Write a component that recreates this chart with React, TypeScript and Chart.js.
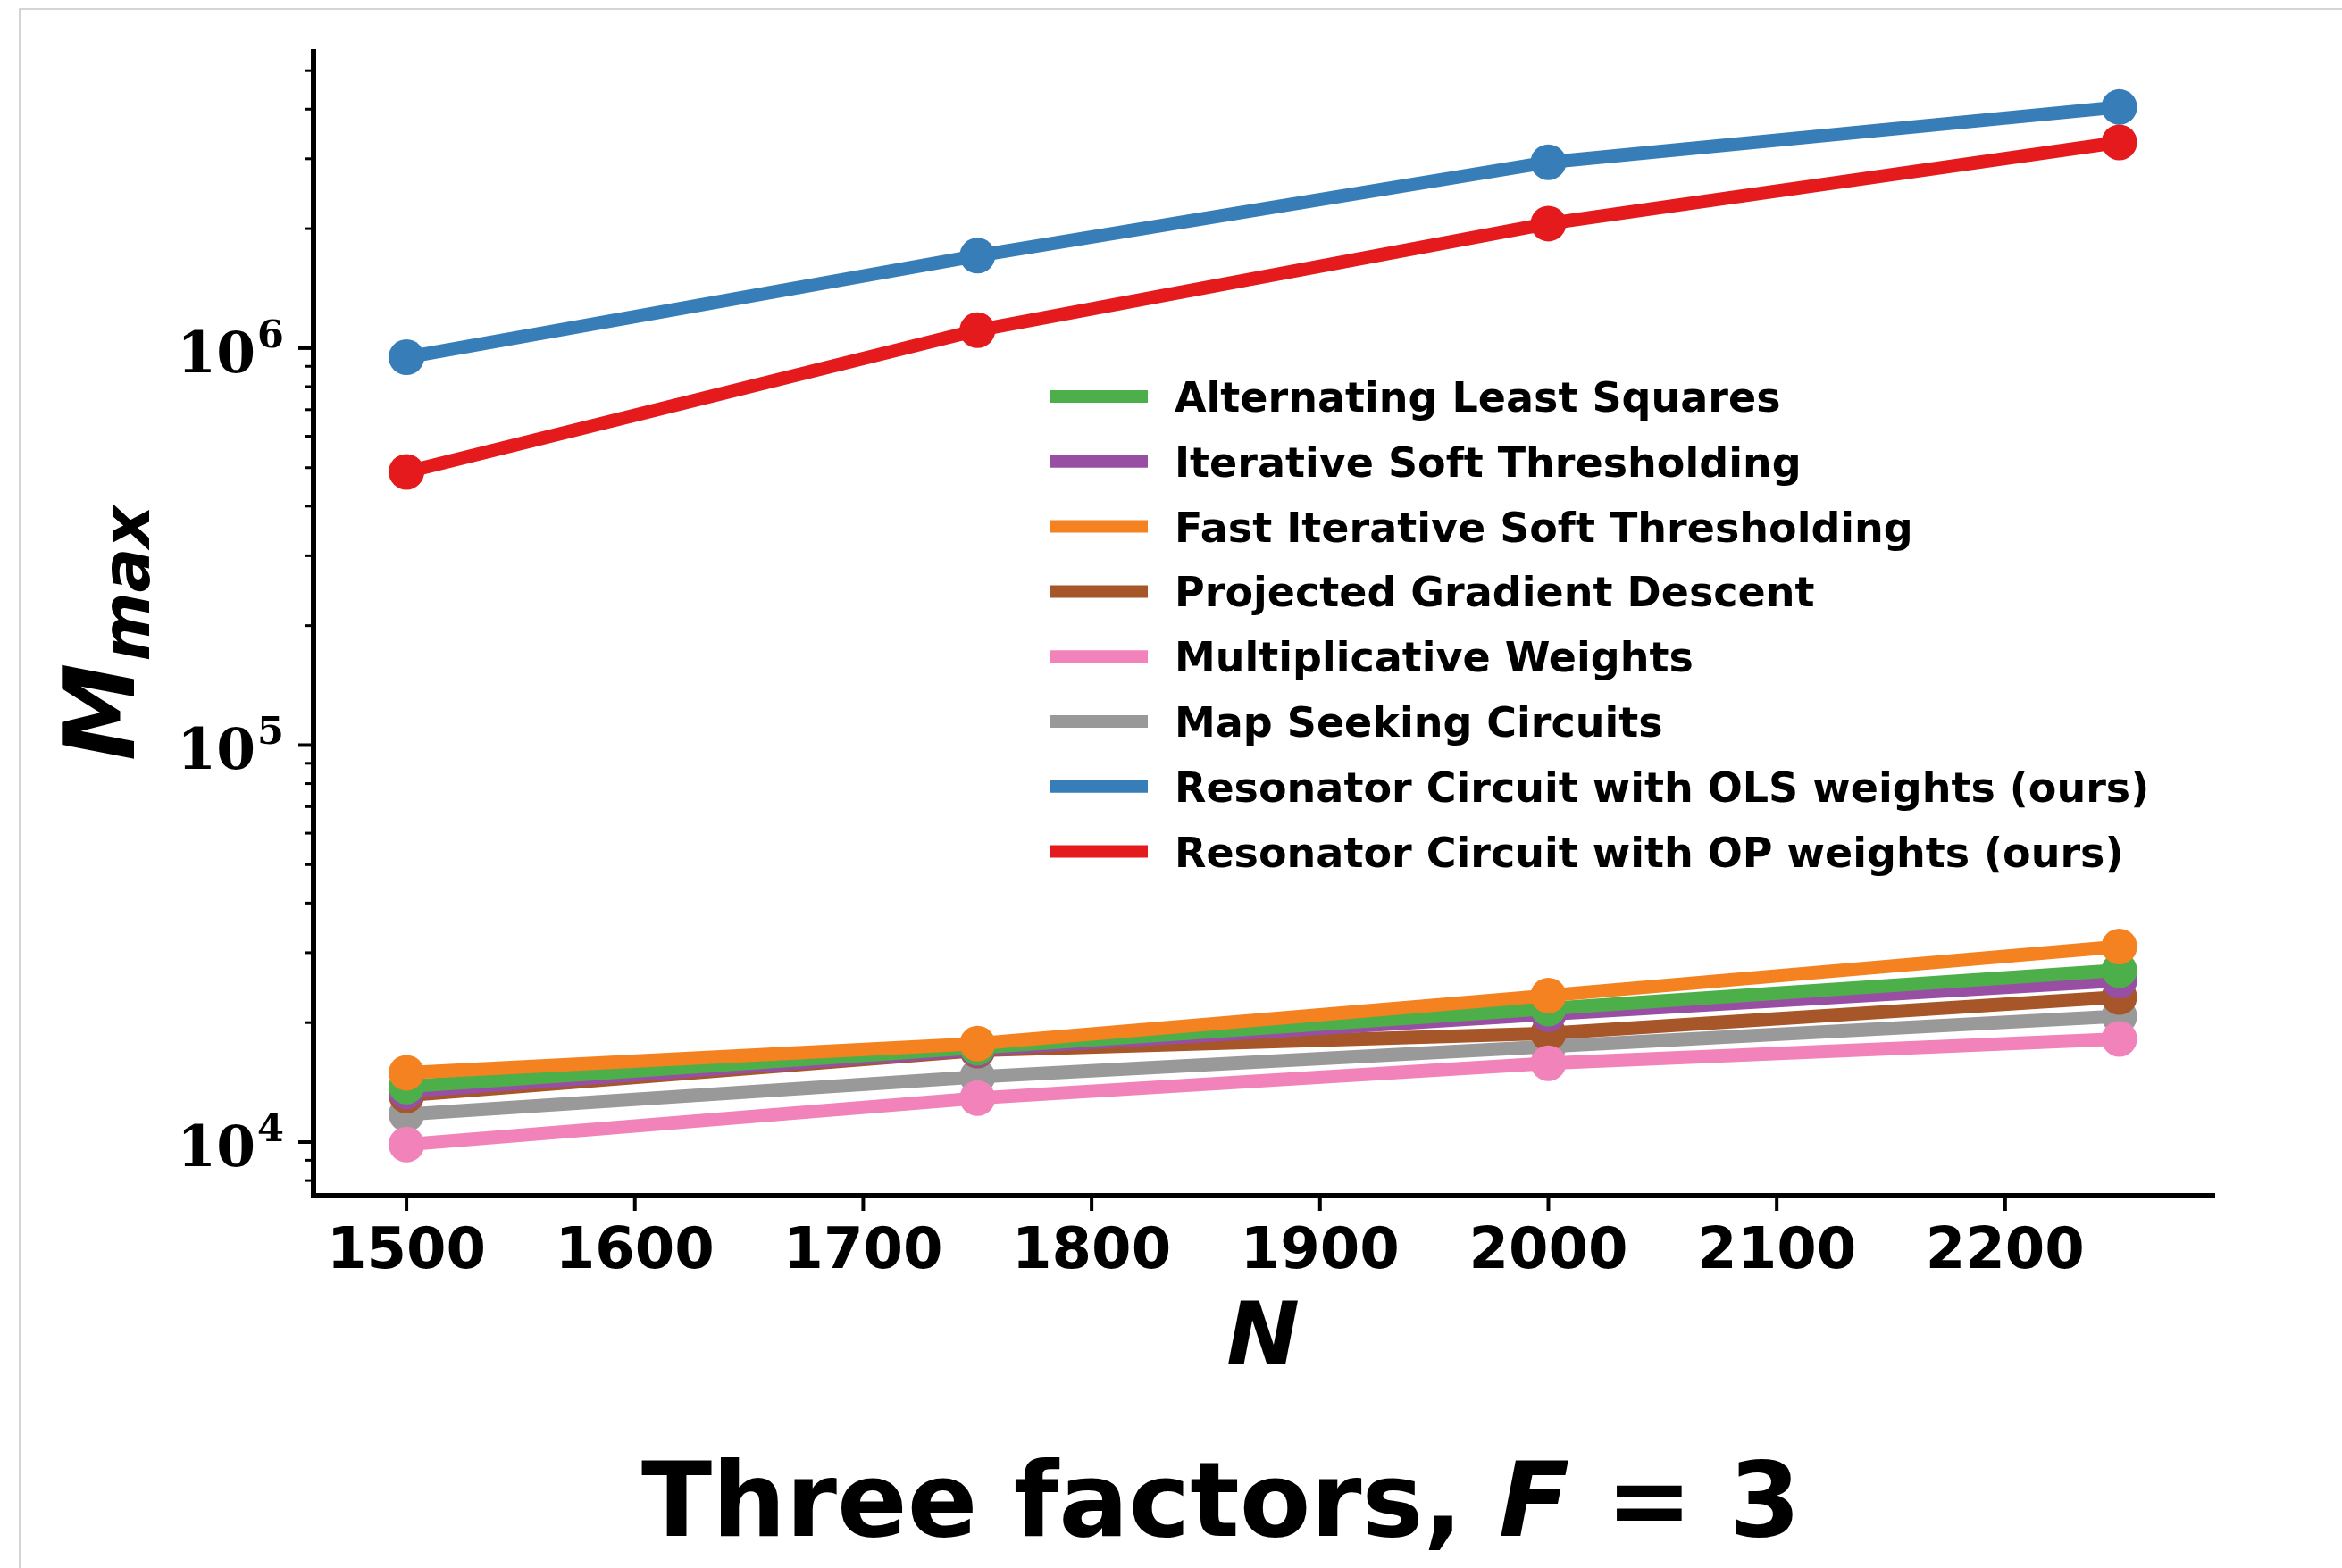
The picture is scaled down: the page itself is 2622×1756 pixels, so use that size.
import React, { useEffect, useRef } from "react";
import { Chart, registerables } from "chart.js";

Chart.register(...registerables);

// Problem size N on the x axis
const N_VALUES = [1500, 1750, 2000, 2250];

const SERIES_LABELS = [
  "Alternating Least Squares",
  "Iterative Soft Thresholding",
  "Fast Iterative Soft Thresholding",
  "Projected Gradient Descent",
  "Multiplicative Weights",
  "Map Seeking Circuits",
  "Resonator Circuit with OLS weights (ours)",
  "Resonator Circuit with OP weights (ours)",
];

const SERIES_COLORS = [
  "#4daf4a",
  "#984ea3",
  "#f58220",
  "#a65628",
  "#f283ba",
  "#999999",
  "#377eb8",
  "#e41a1c",
];

// M_max per method
const alsMax = [13800, 17300, 21700, 27100];
const istMax = [13400, 17100, 21000, 25500];
const fistaMax = [14950, 17700, 23400, 31100];
const pgdMax = [13100, 17000, 18800, 23200];
const mwMax = [9860, 12900, 15800, 18200];
const mscMax = [11750, 14600, 17400, 20750];
const olsMax = [949000, 1710000, 2940000, 4050000];
const opMax = [488000, 1110000, 2060000, 3300000];

const SERIES_VALUES = [alsMax, istMax, fistaMax, pgdMax, mwMax, mscMax, olsMax, opMax];

// stacking: lower number is drawn on top
const DRAW_ORDER = [4, 5, 2, 6, 3, 7, 1, 0];

const X_TICKS = [1500, 1600, 1700, 1800, 1900, 2000, 2100, 2200];
const Y_MAJOR_TICKS = [1e4, 1e5, 1e6];
const Y_MAJOR_EXPONENTS = ["4", "5", "6"];
const Y_DECADES = [1e3, 1e4, 1e5, 1e6];
const MINOR_MULTIPLIERS = [2, 3, 4, 5, 6, 7, 8, 9];

const X_MIN = 1459.3;
const X_MAX = 2290.8;
const Y_MIN = 7330;
const Y_MAX = 5.58e6;

const W = 2622;
const H = 1756;

const SANS = '"DejaVu Sans", "Liberation Sans", sans-serif';
const SERIF = '"DejaVu Serif", "Liberation Serif", serif';

const decorations = {
  id: "decorations",
  afterDraw(chart: any) {
    const { ctx } = chart;
    const a = chart.chartArea;
    const xs = chart.scales.x;
    const ys = chart.scales.y;
    ctx.save();

    // figure frame
    ctx.strokeStyle = "#d4d4d4";
    ctx.lineWidth = 2;
    ctx.beginPath();
    ctx.moveTo(22, H);
    ctx.lineTo(22, 10);
    ctx.lineTo(W, 10);
    ctx.stroke();

    ctx.strokeStyle = "#000";
    ctx.fillStyle = "#000";
    ctx.lineCap = "butt";

    // x ticks
    ctx.lineWidth = 4;
    X_TICKS.forEach((v) => {
      const x = xs.getPixelForValue(v);
      ctx.beginPath();
      ctx.moveTo(x, a.bottom);
      ctx.lineTo(x, a.bottom + 17);
      ctx.stroke();
    });

    // y major ticks
    Y_MAJOR_TICKS.forEach((v) => {
      const y = ys.getPixelForValue(v);
      ctx.lineWidth = 4;
      ctx.beginPath();
      ctx.moveTo(a.left, y);
      ctx.lineTo(a.left - 17, y);
      ctx.stroke();
    });

    // y minor ticks
    ctx.lineWidth = 3;
    Y_DECADES.forEach((d) => {
      MINOR_MULTIPLIERS.forEach((m) => {
        const v = d * m;
        if (v < Y_MIN || v > Y_MAX) return;
        const y = ys.getPixelForValue(v);
        ctx.beginPath();
        ctx.moveTo(a.left, y);
        ctx.lineTo(a.left - 10, y);
        ctx.stroke();
      });
    });

    // spines
    ctx.lineWidth = 6;
    ctx.lineCap = "square";
    ctx.beginPath();
    ctx.moveTo(a.left, a.top);
    ctx.lineTo(a.left, a.bottom);
    ctx.lineTo(a.right, a.bottom);
    ctx.stroke();

    // x tick labels
    ctx.font = `bold 64px ${SANS}`;
    ctx.textAlign = "center";
    ctx.textBaseline = "alphabetic";
    X_TICKS.forEach((v) => {
      ctx.fillText(String(v), xs.getPixelForValue(v), a.bottom + 81);
    });

    // y tick labels: 10^k
    Y_MAJOR_TICKS.forEach((v, i) => {
      const y = ys.getPixelForValue(v);
      ctx.font = `bold 63px ${SERIF}`;
      ctx.textAlign = "right";
      ctx.fillText("10", 286, y + 27);
      ctx.font = `bold 43px ${SERIF}`;
      ctx.textAlign = "left";
      ctx.fillText(Y_MAJOR_EXPONENTS[i], 288, y - 1);
    });

    // x axis title
    ctx.font = `italic bold 98px ${SANS}`;
    ctx.textAlign = "center";
    ctx.fillText("N", (a.left + a.right) / 2, 1528);

    // y axis title: M_max
    ctx.save();
    ctx.translate(150, 852);
    ctx.rotate(-Math.PI / 2);
    ctx.textAlign = "left";
    ctx.font = `italic bold 110px ${SANS}`;
    ctx.fillText("M", 0, 0);
    const mW = ctx.measureText("M").width;
    ctx.font = `italic bold 74px ${SANS}`;
    ctx.fillText("max", mW + 2, 17);
    ctx.restore();

    // legend
    const lx0 = 1175;
    const lx1 = 1285;
    const tx = 1315;
    const ly0 = 444;
    const step = 72.8;
    ctx.font = `bold 46px ${SANS}`;
    ctx.textAlign = "left";
    chart.data.datasets.forEach((ds: any, i: number) => {
      const y = ly0 + i * step;
      ctx.strokeStyle = ds.borderColor;
      ctx.lineWidth = 14;
      ctx.lineCap = "butt";
      ctx.beginPath();
      ctx.moveTo(lx0, y);
      ctx.lineTo(lx1, y);
      ctx.stroke();
      ctx.fillStyle = "#000";
      ctx.fillText(ds.label, tx, y + 17);
    });

    // figure caption
    const parts = [
      { t: "Three factors, ", f: `bold 116px ${SANS}` },
      { t: "F", f: `italic bold 116px ${SANS}` },
      { t: " = ", f: `bold 116px ${SANS}` },
      { t: "3", f: `bold 116px ${SANS}` },
    ];
    let total = 0;
    parts.forEach((p) => {
      ctx.font = p.f;
      total += ctx.measureText(p.t).width;
    });
    let cx = 1367 - total / 2;
    ctx.fillStyle = "#000";
    parts.forEach((p) => {
      ctx.font = p.f;
      ctx.fillText(p.t, cx, 1720);
      cx += ctx.measureText(p.t).width;
    });

    ctx.restore();
  },
};

export default function App() {
  const canvasRef = useRef<HTMLCanvasElement | null>(null);

  useEffect(() => {
    const canvas = canvasRef.current;
    if (!canvas) return;
    const datasets = SERIES_LABELS.map((label, i) => ({
      label,
      data: N_VALUES.map((n, j) => ({ x: n, y: SERIES_VALUES[i][j] })),
      borderColor: SERIES_COLORS[i],
      backgroundColor: SERIES_COLORS[i],
      pointBackgroundColor: SERIES_COLORS[i],
      pointBorderWidth: 0,
      pointRadius: 20,
      pointHoverRadius: 20,
      borderWidth: 15,
      borderJoinStyle: "round" as const,
      borderCapStyle: "butt" as const,
      tension: 0,
      fill: false,
      order: DRAW_ORDER[i],
    }));

    const chart = new Chart(canvas, {
      type: "line",
      data: { datasets },
      options: {
        animation: false,
        responsive: false,
        maintainAspectRatio: false,
        devicePixelRatio: 1,
        layout: { padding: { left: 351, right: W - 2477, top: 58, bottom: H - 1339 } },
        plugins: {
          legend: { display: false },
          tooltip: { enabled: false },
          title: { display: false },
        },
        events: [],
        scales: {
          x: { type: "linear", min: X_MIN, max: X_MAX, display: false },
          y: { type: "logarithmic", min: Y_MIN, max: Y_MAX, display: false },
        },
      },
      plugins: [decorations],
    });

    return () => {
      chart.destroy();
    };
  }, []);

  return (
    <div
      style={{
        position: "fixed",
        left: 0,
        top: 0,
        width: W,
        height: H,
        background: "#fff",
      }}
    >
      <canvas ref={canvasRef} width={W} height={H} style={{ width: W, height: H, display: "block" }} />
    </div>
  );
}
